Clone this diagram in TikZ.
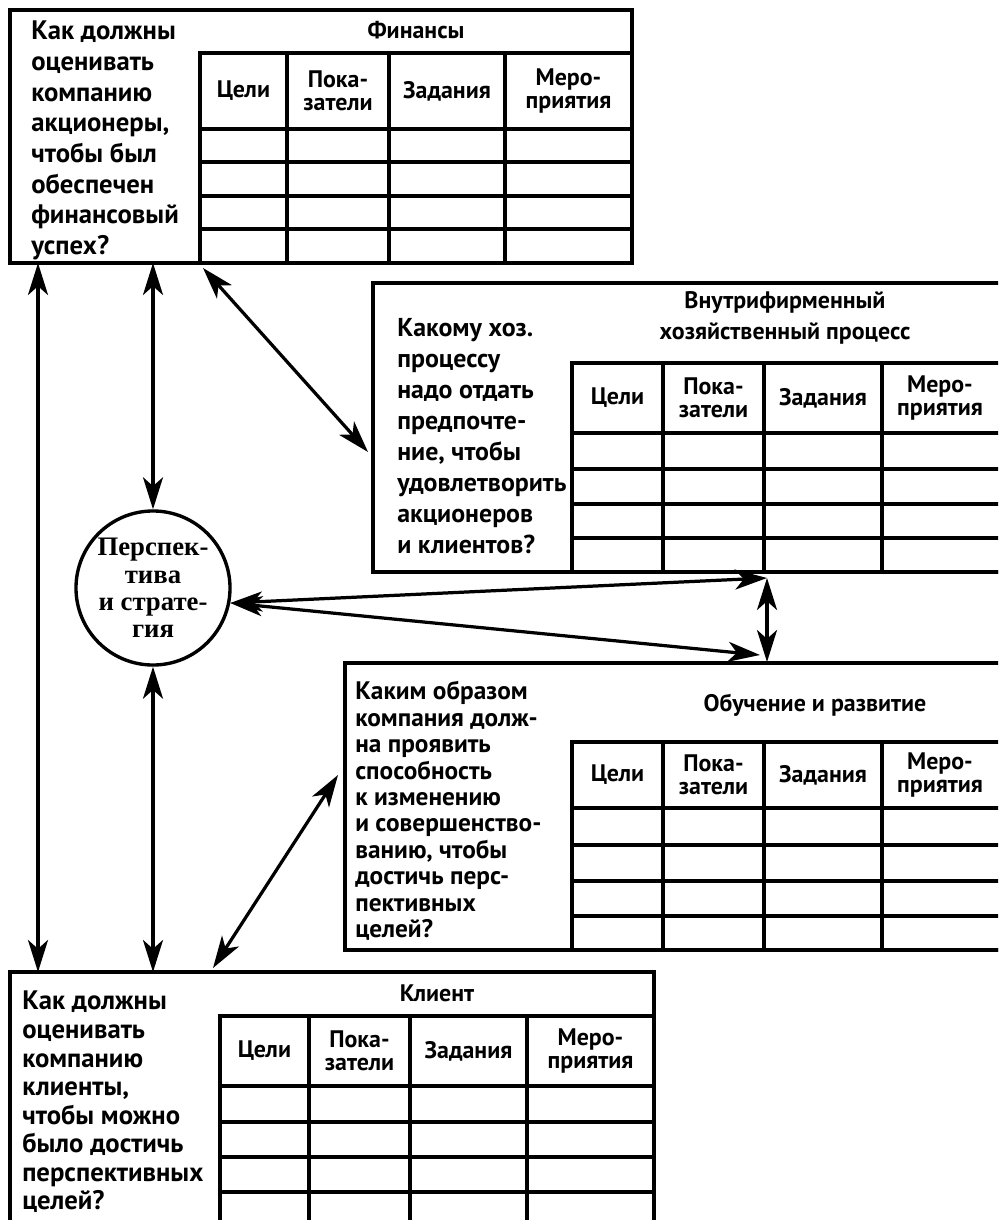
\documentclass[tikz,border=0pt]{standalone}
\usepackage{fontspec}
\setmainfont{PT Sans}
\newfontfamily\stratfont{Liberation Serif}
\usepackage{tikz}
\usetikzlibrary{arrows.meta,calc,positioning}

\begin{document}
\begin{tikzpicture}[x=0.025cm,y=-0.025cm,
  box/.style={line width=3pt},
  grid/.style={line width=2.6pt},
  link/.style={line width=2.3pt,{Stealth[length=0.8cm,width=0.5cm,inset=0.22cm]}-{Stealth[length=0.8cm,width=0.5cm,inset=0.22cm]}},
  ask/.style={anchor=north west,inner sep=0pt,align=left},
  head/.style={align=center,inner sep=0pt,font=\bfseries\fontsize{17}{22}\selectfont},
  col/.style={align=center,inner sep=0pt,font=\bfseries\fontsize{17}{16.5}\selectfont}]
\useasboundingbox (0,0) rectangle (998,1220);
\clip (0,0) rectangle (998,1220);

% outer boxes
\draw[box] (10,10) coordinate (fin-nw) rectangle (632,263) coordinate (fin-se);
\draw[box] (373,283) coordinate (proc-nw) rectangle (1012,572) coordinate (proc-se);
\draw[box] (345,663) coordinate (learn-nw) rectangle (1012,950) coordinate (learn-se);
\draw[box] (10,972) coordinate (cli-nw) rectangle (654,1235) coordinate (cli-se);

% tables
\foreach \t/\xa/\xb/\xc/\xd/\xe/\ya/\yb/\yc/\yd/\ye/\yf in {
  fin/200/287/389/505/632/53/129/162/196/229/263,
  proc/572/663/764/882/1012/363/433/469/504/538/572,
  learn/572/663/764/882/1012/742/808/845/881/916/950,
  cli/220/309/410/527/654/1016/1086/1122/1157/1192/1235}
{
  \draw[grid] (\xa,\ya) rectangle (\xe,\yf);
  \foreach \x in {\xb,\xc,\xd} \draw[grid] (\x,\ya) -- (\x,\yf);
  \foreach \y in {\yb,\yc,\yd,\ye} \draw[grid] (\xa,\y) -- (\xe,\y);
  \node[col] (\t-1) at ({(\xa+\xb)/2},{(\ya+\yb)/2}) {Цели};
  \node[col] (\t-2) at ({(\xb+\xc)/2},{(\ya+\yb)/2}) {Пока-\\затели};
  \node[col] (\t-3) at ({(\xc+\xd)/2},{(\ya+\yb)/2}) {Задания};
  \node[col] (\t-4) at ({(\xd+min(\xe,998))/2},{(\ya+\yb)/2}) {Меро-\\приятия};
}

% titles
\node[head] (fin-h) at (416,30) {Финансы};
\node[head] (proc-h) at (785,318) {Внутрифирменный\\хозяйственный процесс};
\node[head] (learn-h) at (815,705) {Обучение и развитие};
\node[head] (cli-h) at (437,993) {Клиент};

% questions
\node[ask,font=\bfseries\fontsize{19}{21.8}\selectfont] (fin-q) at (31,21)
  {Как должны\\оценивать\\компанию\\акционеры,\\чтобы был\\обеспечен\\финансовый\\успех?};
\node[ask,font=\bfseries\fontsize{18.4}{22.1}\selectfont] (proc-q) at (397,318)
  {Какому хоз.\\процессу\\надо отдать\\предпочте-\\ние, чтобы\\удовлетворить\\акционеров\\и клиентов?};
\node[ask,font=\bfseries\fontsize{18}{18.8}\selectfont] (learn-q) at (355,681)
  {Каким образом\\компания долж-\\на проявить\\способность\\к изменению\\и совершенство-\\ванию, чтобы\\достичь перс-\\пективных\\целей?};
\node[ask,font=\bfseries\fontsize{19}{20.3}\selectfont] (cli-q) at (22,991)
  {Как должны\\оценивать\\компанию\\клиенты,\\чтобы можно\\было достичь\\перспективных\\целей?};

% vision and strategy
\node[draw,circle,line width=2.4pt,minimum size=3.85cm,inner sep=0pt,align=center,
  font=\stratfont\bfseries\fontsize{19}{19.5}\selectfont] (strat) at (153,588)
  {Перспек-\\тива\\и страте-\\гия};

% arrow ends
\coordinate (fin-l) at (38,263);
\coordinate (cli-l) at (38,972);
\coordinate (fin-r) at (203,268);
\coordinate (proc-l) at (368,452);
\coordinate (cli-r) at (213,968);
\coordinate (learn-l) at (338,775);
\coordinate (proc-b) at (767,578);
\coordinate (learn-t) at (767,662);
\coordinate (learn-a) at (760,655);

\draw[link] (fin-l) -- (cli-l);
\draw[link] (strat.north |- fin-se) -- (strat.north);
\draw[link] (strat.south) -- (strat.south |- cli-nw);
\draw[link] (fin-r) -- (proc-l);
\draw[link] (cli-r) -- (learn-l);
\draw[link] (strat.-11) -- (proc-b);
\draw[link] (strat.-11) -- (learn-a);
\draw[link] (proc-b) -- (learn-t);
\end{tikzpicture}
\end{document}
